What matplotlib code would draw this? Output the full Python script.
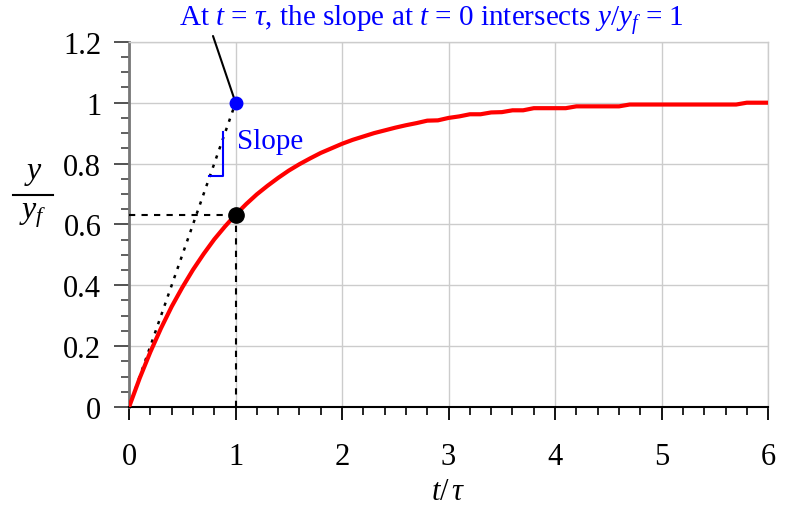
import matplotlib
matplotlib.use("Agg")
import matplotlib.pyplot as plt
from matplotlib.ticker import MultipleLocator, FuncFormatter
from matplotlib.lines import Line2D

plt.rcParams['font.family'] = ['Liberation Serif', 'DejaVu Serif']
plt.rcParams['mathtext.fontset'] = 'custom'
plt.rcParams['mathtext.rm'] = 'Liberation Serif'
plt.rcParams['mathtext.it'] = 'Liberation Serif:italic'

# Normalised time t/tau and normalised response y/y_f
t_tau = [0.0, 0.1, 0.2, 0.3, 0.4, 0.5, 0.6, 0.7, 0.8, 0.9,
         1.0, 1.1, 1.2, 1.3, 1.4, 1.5, 1.6, 1.7, 1.8, 1.9,
         2.0, 2.1, 2.2, 2.3, 2.4, 2.5, 2.6, 2.7, 2.8, 2.9,
         3.0, 3.1, 3.2, 3.3, 3.4, 3.5, 3.6, 3.7, 3.8, 3.9,
         4.0, 4.1, 4.2, 4.3, 4.4, 4.5, 4.6, 4.7, 4.8, 4.9,
         5.0, 5.1, 5.2, 5.3, 5.4, 5.5, 5.6, 5.7, 5.8, 5.9, 6.0]
y_ratio = [0.000, 0.095, 0.181, 0.259, 0.330, 0.393, 0.451, 0.503, 0.551, 0.593,
           0.632, 0.667, 0.699, 0.727, 0.753, 0.777, 0.798, 0.817, 0.835, 0.850,
           0.865, 0.878, 0.889, 0.900, 0.909, 0.918, 0.926, 0.933, 0.941, 0.942,
           0.950, 0.955, 0.962, 0.962, 0.968, 0.969, 0.975, 0.975, 0.982, 0.982,
           0.982, 0.982, 0.988, 0.988, 0.988, 0.988, 0.988, 0.994, 0.994, 0.994,
           0.994, 0.994, 0.994, 0.994, 0.994, 0.994, 0.994, 0.994, 1.000, 1.000, 1.000]

# Key points
tau_point = (1.0, 0.632)        # response at t = tau
slope_hit = (1.0, 1.0)          # initial slope reaches y/y_f = 1 at t = tau
tangent_x = [0.0, 1.0]
tangent_y = [0.0, 1.0]

x_ticks = [0, 1, 2, 3, 4, 5, 6]
y_ticks = [0, 0.2, 0.4, 0.6, 0.8, 1.0, 1.2]

fig = plt.figure(figsize=(7.87, 5.10), dpi=100)
ax = fig.add_axes([0.164, 0.2, 0.812, 0.716])

ax.set_xlim(0, 6)
ax.set_ylim(0, 1.2)
ax.set_xticks(x_ticks)
ax.set_yticks(y_ticks)
ax.xaxis.set_minor_locator(MultipleLocator(0.2))
ax.yaxis.set_minor_locator(MultipleLocator(0.05))
ax.yaxis.set_major_formatter(FuncFormatter(lambda v, p: f"{v:g}"))

ax.grid(True, which='major', color='#cccccc', linewidth=1.0, zorder=0)
for side in ('top', 'right'):
    ax.spines[side].set_color('#cccccc')
    ax.spines[side].set_linewidth(1.0)
ax.spines['left'].set_color('#777777')
ax.spines['left'].set_linewidth(2.0)
ax.spines['bottom'].set_color('black')
ax.spines['bottom'].set_linewidth(1.5)

ax.tick_params(axis='x', which='major', direction='out', length=9, width=1.3,
               color='black', labelsize=22, pad=16)
ax.tick_params(axis='x', which='minor', direction='out', length=6, width=1.2,
               color='black')
ax.tick_params(axis='y', which='major', direction='out', length=11, width=1.3,
               color='#444444', labelsize=22, pad=9)
ax.tick_params(axis='y', which='minor', direction='out', length=6, width=1.2,
               color='#444444')

# Response curve
ax.plot(t_tau, y_ratio, color='#ff0000', linewidth=3.0, zorder=4,
        solid_joinstyle='round', solid_capstyle='round')

# Initial-slope tangent
ax.plot(tangent_x, tangent_y, color='black', linewidth=1.8,
        linestyle=(0, (1.3, 2.6)), zorder=3)

# Guide lines to the point at t = tau
ax.plot([0, tau_point[0]], [tau_point[1], tau_point[1]], color='black',
        linewidth=1.5, linestyle=(0, (3, 3)), zorder=3)
ax.plot([tau_point[0], tau_point[0]], [0, tau_point[1]], color='black',
        linewidth=1.5, linestyle=(0, (3, 3)), zorder=3)

ax.plot([tau_point[0]], [tau_point[1]], 'o', color='black', markersize=11, zorder=6,
        clip_on=False)
ax.plot([slope_hit[0]], [slope_hit[1]], 'o', color='#0000ff', markersize=9, zorder=6,
        clip_on=False)

# Slope triangle
ax.plot([0.755, 0.885, 0.885], [0.758, 0.758, 0.904], color='#0000ff',
        linewidth=1.5, zorder=5)
ax.text(1.01, 0.875, 'Slope', color='#0000ff', fontsize=21, va='center', ha='left')

# Callout text and leader line
fig.text(431 / 787, 1 - 20 / 510,
         r"At $t$ = $\tau$, the slope at $t$ = 0 intersects $y$/$y_f$ = 1",
         ha='center', va='center', color='#0000ff', fontsize=21)
ax.annotate('', xy=slope_hit, xytext=(213, 510 - 37), textcoords='figure pixels',
            arrowprops=dict(arrowstyle='-', color='black', linewidth=1.5,
                            shrinkA=0, shrinkB=0),
            annotation_clip=False)

# Axis labels
fig.text(448 / 787, 1 - 493 / 510, r"$t/\,\tau$", ha='center', va='center', fontsize=22)
fig.text(33 / 787, 1 - 174 / 510, r"$y$", ha='center', va='center', fontsize=23)
fig.add_artist(Line2D([13 / 787, 53 / 787], [1 - 196 / 510, 1 - 196 / 510],
                      transform=fig.transFigure, color='black', linewidth=1.5))
fig.text(33 / 787, 1 - 216 / 510, r"$y_f$", ha='center', va='center', fontsize=23)

fig.savefig('out.png', dpi=100)
